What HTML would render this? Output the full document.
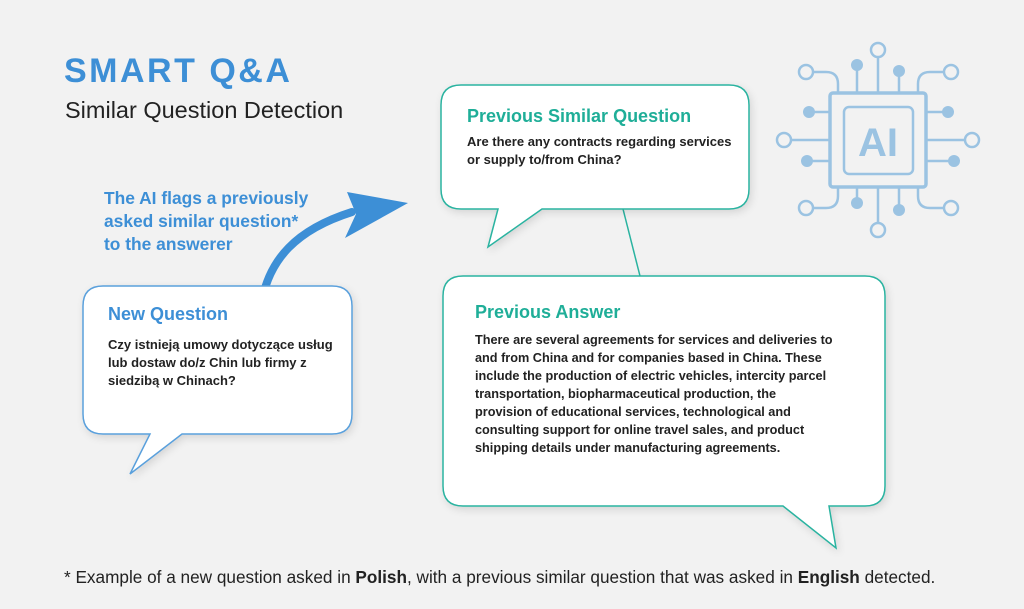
<!DOCTYPE html>
<html><head><meta charset="utf-8"><style>
body{margin:0;background:#f2f2f2;}
svg{display:block;font-family:"Liberation Sans","Noto Sans CJK SC",sans-serif;}
.b{font-weight:bold;}
</style></head><body>
<svg width="1024" height="609" viewBox="0 0 1024 609" xmlns="http://www.w3.org/2000/svg">
<rect width="1024" height="609" fill="#f2f2f2"/>
<defs><filter id="sh" x="-10%" y="-10%" width="130%" height="130%"><feDropShadow dx="2" dy="3" stdDeviation="4" flood-color="#000" flood-opacity="0.12"/></filter></defs>
<text x="64" y="82" font-size="34" class="b" fill="#3d8fd6" letter-spacing="2.5">SMART Q&amp;A</text>
<text x="65" y="118" font-size="23.5" fill="#222">Similar Question Detection</text>
<text font-size="17.4" class="b" fill="#3d8fd6"><tspan x="104" y="204">The AI flags a previously</tspan><tspan x="104" y="227">asked similar question*</tspan><tspan x="104" y="250">to the answerer</tspan></text>
<path d="M262 300 C270 260 295 230 352 212" stroke="#3d8fd6" stroke-width="8" fill="none" stroke-linecap="round"/>
<path d="M347 192 L408 203 L345 238 L356 214 Z" fill="#3d8fd6"/>
<path d="M103 286 H332 Q352 286 352 306 V414 Q352 434 332 434 H182 L130 474 L150 434 H103 Q83 434 83 414 V306 Q83 286 103 286 Z" fill="#fff" stroke="#5aa0dc" stroke-width="1.5" filter="url(#sh)"/>
<text x="108" y="320" font-size="18" class="b" fill="#3d8fd6">New Question</text>
<text font-size="13" class="b" fill="#222"><tspan x="108" y="349">Czy istnieją umowy dotyczące usług</tspan><tspan x="108" y="367">lub dostaw do/z Chin lub firmy z</tspan><tspan x="108" y="385">siedzibą w Chinach?</tspan></text>
<line x1="623" y1="209" x2="640" y2="276" stroke="#2ab3a0" stroke-width="1.5"/>
<path d="M461 85 H729 Q749 85 749 105 V189 Q749 209 729 209 H542 L488 247 L498 209 H461 Q441 209 441 189 V105 Q441 85 461 85 Z" fill="#fff" stroke="#2ab3a0" stroke-width="1.5" filter="url(#sh)"/>
<text x="467" y="122" font-size="18" class="b" fill="#1fae98">Previous Similar Question</text>
<text font-size="13" class="b" fill="#222"><tspan x="467" y="146">Are there any contracts regarding services</tspan><tspan x="467" y="164">or supply to/from China?</tspan></text>
<path d="M463 276 H865 Q885 276 885 296 V486 Q885 506 865 506 H829 L836 548 L783 506 H463 Q443 506 443 486 V296 Q443 276 463 276 Z" fill="#fff" stroke="#2ab3a0" stroke-width="1.5" filter="url(#sh)"/>
<text x="475" y="318" font-size="18" class="b" fill="#1fae98">Previous Answer</text>
<text font-size="12.7" class="b" fill="#222"><tspan x="475" y="344">There are several agreements for services and deliveries to</tspan><tspan x="475" y="362">and from China and for companies based in China. These</tspan><tspan x="475" y="380">include the production of electric vehicles, intercity parcel</tspan><tspan x="475" y="398">transportation, biopharmaceutical production, the</tspan><tspan x="475" y="416">provision of educational services, technological and</tspan><tspan x="475" y="434">consulting support for online travel sales, and product</tspan><tspan x="475" y="452">shipping details under manufacturing agreements.</tspan></text>
<g stroke="#9bc3e2" stroke-width="2.5" fill="none">
<rect x="830" y="93" width="96" height="94" rx="3" stroke-width="3.5"/>
<rect x="844" y="107" width="69" height="67" rx="5"/>
<line x1="878" y1="93" x2="878" y2="58"/><circle cx="878" cy="50" r="7"/>
<line x1="878" y1="187" x2="878" y2="222"/><circle cx="878" cy="230" r="7"/>
<line x1="830" y1="140" x2="792" y2="140"/><circle cx="784" cy="140" r="7"/>
<line x1="926" y1="140" x2="964" y2="140"/><circle cx="972" cy="140" r="7"/>
<line x1="857" y1="93" x2="857" y2="65"/><line x1="899" y1="93" x2="899" y2="70"/>
<line x1="857" y1="187" x2="857" y2="203"/><line x1="899" y1="187" x2="899" y2="210"/>
<line x1="830" y1="112" x2="812" y2="112"/><line x1="830" y1="161" x2="812" y2="161"/>
<line x1="926" y1="112" x2="946" y2="112"/><line x1="926" y1="161" x2="954" y2="161"/>
<path d="M838 93 V84 Q838 72 826 72 H814"/><circle cx="806" cy="72" r="7"/>
<path d="M918 93 V84 Q918 72 930 72 H943"/><circle cx="951" cy="72" r="7"/>
<path d="M838 187 V196 Q838 208 826 208 H814"/><circle cx="806" cy="208" r="7"/>
<path d="M918 187 V196 Q918 208 930 208 H943"/><circle cx="951" cy="208" r="7"/>
</g>
<g fill="#9bc3e2">
<circle cx="857" cy="65" r="6"/><circle cx="899" cy="71" r="6"/>
<circle cx="857" cy="203" r="6"/><circle cx="899" cy="210" r="6"/>
<circle cx="809" cy="112" r="6"/><circle cx="807" cy="161" r="6"/>
<circle cx="948" cy="112" r="6"/><circle cx="954" cy="161" r="6"/>
</g>
<text x="878" y="156" font-size="40" font-weight="900" fill="#9bc3e2" text-anchor="middle">AI</text>
<text x="64" y="583" font-size="17.2" fill="#222">* Example of a new question asked in <tspan class="b">Polish</tspan>, with a previous similar question that was asked in <tspan class="b">English</tspan> detected.</text>
</svg>
</body></html>
